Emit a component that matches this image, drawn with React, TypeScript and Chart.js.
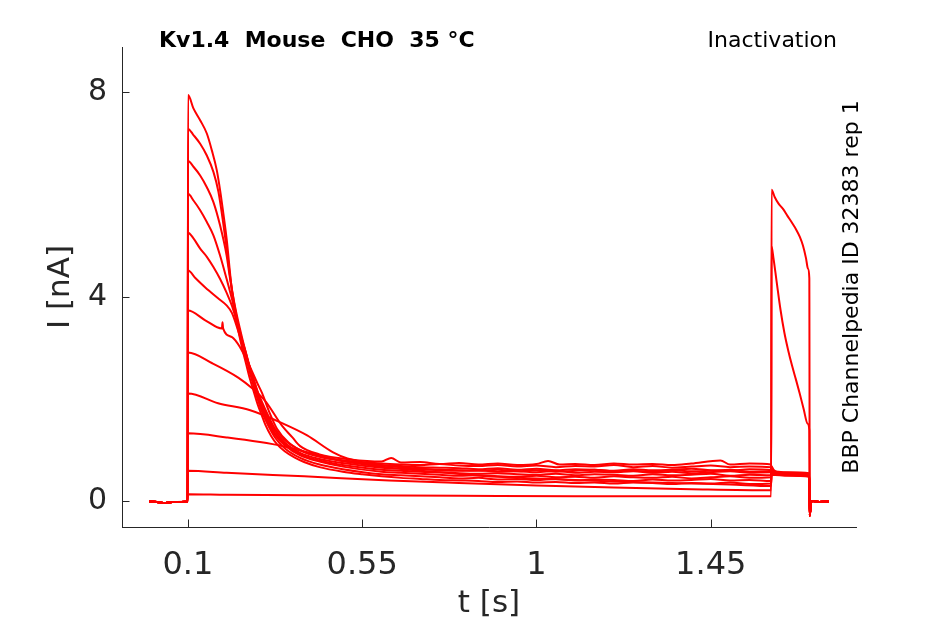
import { useEffect, useRef } from "react";
import { Chart, registerables } from "chart.js";

Chart.register(...registerables);

const titleText = "Kv1.4  Mouse  CHO  35 °C";
const protocolText = "Inactivation";
const sideText = "BBP Channelpedia ID 32383 rep 1";
const xLabel = "t [s]";
const yLabel = "I [nA]";
const xTicks = [0.1, 0.55, 1, 1.45];
const yTicks = [0, 4, 8];

// holding current before the prepulse, same for every sweep
const holding = [[0, 0], [0.02, -0.01], [0.042, -0.03], [0.06, -0.01], [0.0995, 0]];
// back to holding after the test pulse
const tailCurrent = [[1.7055, -0.28], [1.709, -0.02], [1.713, 0.01], [1.73, -0.01], [1.755, 0]];

// prepulse (0.1 - 1.606 s) and test pulse (1.607 - 1.705 s), [t, I]
const sweep1 = [[0.1005, 7.94], [0.1144, 7.68], [0.1317, 7.45], [0.149, 7.19], [0.162, 6.86], [0.1748, 6.47], [0.1833, 6.08], [0.1918, 5.62], [0.2006, 5.1], [0.2091, 4.45], [0.214, 4.1], [0.22, 3.75], [0.23, 3.35], [0.24, 3.0], [0.25, 2.7], [0.26, 2.4], [0.27, 2.15], [0.28, 1.9], [0.29, 1.7], [0.3, 1.5], [0.315, 1.28], [0.33, 1.12], [0.35, 0.98], [0.375, 0.86], [0.4, 0.77], [0.44, 0.67], [0.5, 0.58], [0.55, 0.53], [0.6, 0.49],
  [0.65, 0.46], [0.7, 0.44], [0.75, 0.42], [0.8, 0.41], [0.85, 0.4], [0.9, 0.38], [0.95, 0.39], [1.0, 0.37], [1.05, 0.38], [1.1, 0.36], [1.15, 0.37], [1.2, 0.35], [1.25, 0.37], [1.3, 0.36], [1.35, 0.34], [1.4, 0.36], [1.45, 0.35], [1.5, 0.37], [1.55, 0.34], [1.606, 0.35],
  [1.607, 0.52], [1.65, 0.5], [1.7045, 0.48]];
const sweep2 = [[0.1005, 7.28], [0.1145, 7.16], [0.1318, 6.99], [0.149, 6.76], [0.166, 6.44], [0.179, 6.05], [0.192, 5.4], [0.2, 4.95], [0.209, 4.4], [0.22, 3.85], [0.23, 3.45], [0.24, 3.12], [0.25, 2.82], [0.26, 2.52], [0.27, 2.25], [0.28, 2.0], [0.29, 1.78], [0.3, 1.6], [0.325, 1.25], [0.35, 1.04], [0.39, 0.85], [0.44, 0.72], [0.5, 0.63], [0.6, 0.53],
  [0.65, 0.51], [0.7, 0.49], [0.75, 0.47], [0.8, 0.45], [0.85, 0.46], [0.9, 0.43], [0.95, 0.44], [1.0, 0.42], [1.05, 0.44], [1.1, 0.41], [1.15, 0.43], [1.2, 0.42], [1.25, 0.4], [1.3, 0.43], [1.35, 0.41], [1.4, 0.42], [1.45, 0.44], [1.5, 0.41], [1.55, 0.42], [1.606, 0.4],
  [1.607, 0.54], [1.65, 0.51], [1.7045, 0.49]];
const sweep3 = [[0.1005, 6.65], [0.1145, 6.54], [0.1318, 6.37], [0.149, 6.14], [0.166, 5.85], [0.183, 5.4], [0.2, 4.81], [0.209, 4.35], [0.22, 3.88], [0.23, 3.52], [0.24, 3.2], [0.25, 2.9], [0.26, 2.6], [0.27, 2.32], [0.28, 2.05], [0.29, 1.84], [0.3, 1.65], [0.325, 1.3], [0.35, 1.1], [0.39, 0.9], [0.44, 0.78], [0.5, 0.68], [0.6, 0.58],
  [0.65, 0.56], [0.7, 0.54], [0.75, 0.52], [0.8, 0.5], [0.85, 0.51], [0.9, 0.49], [0.95, 0.48], [1.0, 0.5], [1.05, 0.47], [1.1, 0.48], [1.15, 0.46], [1.2, 0.49], [1.25, 0.47], [1.3, 0.46], [1.35, 0.48], [1.4, 0.45], [1.45, 0.47], [1.5, 0.49], [1.55, 0.46], [1.606, 0.47],
  [1.607, 0.55], [1.65, 0.52], [1.7045, 0.5]];
const sweep4 = [[0.1005, 6.01], [0.1145, 5.88], [0.1318, 5.69], [0.149, 5.46], [0.166, 5.2], [0.183, 4.81], [0.2, 4.35], [0.214, 3.95], [0.23, 3.45], [0.24, 3.15], [0.25, 2.88], [0.26, 2.6], [0.27, 2.35], [0.28, 2.1], [0.29, 1.88], [0.3, 1.7], [0.325, 1.33], [0.35, 1.12], [0.39, 0.92], [0.44, 0.8], [0.5, 0.71], [0.6, 0.62],
  [0.65, 0.6], [0.7, 0.58], [0.75, 0.57], [0.8, 0.55], [0.85, 0.54], [0.9, 0.55], [0.95, 0.53], [1.0, 0.52], [1.05, 0.54], [1.1, 0.51], [1.15, 0.53], [1.2, 0.52], [1.25, 0.5], [1.3, 0.53], [1.35, 0.51], [1.4, 0.52], [1.45, 0.54], [1.5, 0.5], [1.55, 0.52], [1.606, 0.51],
  [1.607, 0.56], [1.65, 0.53], [1.7045, 0.51]];
const sweep5 = [[0.1005, 5.25], [0.1145, 5.14], [0.1318, 4.94], [0.149, 4.78], [0.166, 4.58], [0.183, 4.35], [0.2, 4.08], [0.214, 3.82], [0.23, 3.42], [0.24, 3.15], [0.25, 2.9], [0.26, 2.63], [0.27, 2.38], [0.28, 2.14], [0.29, 1.93], [0.3, 1.75], [0.325, 1.38], [0.35, 1.15], [0.39, 0.95], [0.44, 0.83], [0.5, 0.75], [0.6, 0.66],
  [0.65, 0.64], [0.7, 0.63], [0.75, 0.61], [0.8, 0.6], [0.85, 0.61], [0.9, 0.58], [0.95, 0.59], [1.0, 0.57], [1.05, 0.6], [1.1, 0.56], [1.15, 0.58], [1.2, 0.57], [1.25, 0.59], [1.3, 0.56], [1.35, 0.58], [1.4, 0.55], [1.45, 0.57], [1.5, 0.59], [1.55, 0.56], [1.606, 0.57],
  [1.607, 0.57], [1.65, 0.54], [1.7045, 0.52]];
const sweep6 = [[0.1005, 4.51], [0.12, 4.36], [0.145, 4.18], [0.178, 3.97], [0.2, 3.83], [0.214, 3.68], [0.225, 3.45], [0.235, 3.21], [0.25, 2.85], [0.265, 2.5], [0.28, 2.15], [0.3, 1.8], [0.325, 1.42], [0.35, 1.2], [0.39, 1.0], [0.44, 0.87], [0.5, 0.79], [0.6, 0.71],
  [0.65, 0.69], [0.7, 0.67], [0.75, 0.66], [0.8, 0.65], [0.85, 0.63], [0.9, 0.65], [0.95, 0.62], [1.0, 0.64], [1.05, 0.61], [1.1, 0.63], [1.15, 0.62], [1.2, 0.6], [1.25, 0.63], [1.3, 0.61], [1.35, 0.62], [1.4, 0.64], [1.45, 0.61], [1.5, 0.6], [1.55, 0.63], [1.606, 0.61],
  [1.607, 0.58], [1.65, 0.55], [1.7045, 0.53]];
const sweep7 = [[0.1005, 3.73], [0.145, 3.54], [0.188, 3.38], [0.1895, 3.5], [0.191, 3.38], [0.214, 3.21], [0.235, 3.01], [0.256, 2.7], [0.28, 2.3], [0.292, 2.11], [0.31, 1.75], [0.33, 1.42], [0.36, 1.15], [0.4, 0.97], [0.475, 0.83], [0.6, 0.74],
  [0.65, 0.72], [0.7, 0.71], [0.75, 0.73], [0.8, 0.7], [0.85, 0.69], [0.9, 0.71], [0.95, 0.68], [1.0, 0.7], [1.05, 0.67], [1.1, 0.69], [1.15, 0.68], [1.2, 0.71], [1.25, 0.67], [1.3, 0.69], [1.35, 0.66], [1.4, 0.68], [1.45, 0.7], [1.5, 0.67], [1.55, 0.68], [1.606, 0.67],
  [1.607, 0.6], [1.65, 0.56], [1.7045, 0.54]];
const sweep8 = [[0.1005, 2.91], [0.163, 2.7], [0.23, 2.42], [0.266, 2.21], [0.3, 1.96], [0.344, 1.47], [0.37, 1.25], [0.39, 1.08], [0.44, 0.92], [0.52, 0.82], [0.6, 0.78], [0.625, 0.85], [0.65, 0.76],
  [0.7, 0.77], [0.75, 0.73], [0.8, 0.75], [0.85, 0.72], [0.9, 0.74], [0.95, 0.71], [1.0, 0.73], [1.03, 0.79], [1.06, 0.72], [1.1, 0.73], [1.15, 0.71], [1.2, 0.74], [1.25, 0.72], [1.3, 0.73], [1.35, 0.71], [1.4, 0.74], [1.475, 0.8], [1.5, 0.72], [1.55, 0.74], [1.606, 0.72],
  [1.607, 0.6], [1.65, 0.57], [1.7045, 0.55]];
const sweep9 = [[0.1005, 2.11], [0.178, 1.92], [0.261, 1.78], [0.346, 1.52], [0.408, 1.29], [0.475, 0.96], [0.512, 0.84], [0.604, 0.7],
  [0.65, 0.67], [0.7, 0.64], [0.75, 0.62], [0.8, 0.61], [0.85, 0.6], [0.9, 0.62], [0.95, 0.59], [1.0, 0.61], [1.05, 0.58], [1.1, 0.6], [1.15, 0.62], [1.2, 0.59], [1.25, 0.6], [1.3, 0.58], [1.35, 0.61], [1.4, 0.59], [1.45, 0.6], [1.5, 0.62], [1.55, 0.58], [1.606, 0.59],
  [1.607, 0.56], [1.65, 0.54], [1.7045, 0.52]];
const sweep10 = [[0.1005, 1.33], [0.2, 1.25], [0.346, 1.08], [0.493, 0.8], [0.622, 0.66], [0.78, 0.55], [0.9, 0.48], [1.0, 0.45], [1.1, 0.42], [1.2, 0.39], [1.3, 0.37], [1.4, 0.35], [1.5, 0.33], [1.606, 0.3],
  [1.607, 0.68], [1.612, 0.62], [1.62, 0.57], [1.635, 0.54], [1.66, 0.52], [1.69, 0.5], [1.7045, 0.49]];
const sweep11 = [[0.1005, 0.6], [0.2, 0.56], [0.4, 0.49], [0.62, 0.41], [0.8, 0.36], [1.0, 0.31], [1.2, 0.27], [1.4, 0.24], [1.606, 0.22],
  [1.607, 4.98], [1.612, 4.75], [1.62, 4.3], [1.63, 3.75], [1.64, 3.3], [1.65, 2.95], [1.66, 2.65], [1.67, 2.38], [1.68, 2.1], [1.69, 1.8], [1.7, 1.52], [1.7045, 1.39]];
const sweep12 = [[0.1005, 0.14], [0.2, 0.13], [0.5, 0.12], [0.8, 0.11], [1.1, 0.1], [1.4, 0.1], [1.606, 0.1],
  [1.607, 6.09], [1.615, 5.95], [1.625, 5.82], [1.636, 5.72], [1.648, 5.58], [1.661, 5.43], [1.67, 5.32], [1.68, 5.17], [1.688, 5.0], [1.696, 4.75], [1.701, 4.55], [1.7045, 4.36]];

const sweeps = [sweep1, sweep2, sweep3, sweep4, sweep5, sweep6, sweep7, sweep8, sweep9, sweep10, sweep11, sweep12];

const axisColor = "#262626";
const font = "'DejaVu Sans', sans-serif";

const overlay = {
  id: "overlay",
  afterDraw(chart: any) {
    const { ctx, chartArea } = chart;
    const x = chart.scales.x;
    const y = chart.scales.y;
    ctx.save();
    // inward tick marks
    ctx.strokeStyle = axisColor;
    ctx.lineWidth = 1;
    xTicks.forEach((v) => {
      const px = Math.round(x.getPixelForValue(v)) + 0.5;
      ctx.beginPath();
      ctx.moveTo(px, chartArea.bottom);
      ctx.lineTo(px, chartArea.bottom - 7.5);
      ctx.stroke();
    });
    yTicks.forEach((v) => {
      const py = Math.round(y.getPixelForValue(v)) + 0.5;
      ctx.beginPath();
      ctx.moveTo(chartArea.left, py);
      ctx.lineTo(chartArea.left + 7.5, py);
      ctx.stroke();
    });
    ctx.fillStyle = "#000";
    ctx.textBaseline = "alphabetic";
    ctx.font = `bold 22px ${font}`;
    ctx.textAlign = "left";
    ctx.fillText(titleText, 159, 47);
    ctx.font = `22px ${font}`;
    ctx.textAlign = "right";
    ctx.fillText(protocolText, 837, 47);
    ctx.translate(858, 287);
    ctx.rotate(-Math.PI / 2);
    ctx.textAlign = "center";
    ctx.fillText(sideText, 0, 0);
    ctx.restore();
  },
};

export default function App() {
  const canvasRef = useRef<HTMLCanvasElement>(null);
  const chartRef = useRef<Chart | null>(null);

  useEffect(() => {
    if (!canvasRef.current) return;
    if (chartRef.current) chartRef.current.destroy();

    Chart.defaults.font.family = font;

    chartRef.current = new Chart(canvasRef.current, {
      type: "line",
      data: {
        datasets: sweeps.map((s, i) => ({
          label: `sweep ${i + 1}`,
          data: [...holding, ...s, ...tailCurrent] as any,
          borderColor: "#ff0000",
          borderWidth: 2,
          pointRadius: 0,
          cubicInterpolationMode: "monotone" as const,
          fill: false,
        })),
      },
      options: {
        animation: false,
        responsive: true,
        maintainAspectRatio: false,
        layout: { padding: { left: 0, right: 89, top: 47, bottom: 0 } },
        plugins: { legend: { display: false }, tooltip: { enabled: false } },
        scales: {
          x: {
            type: "linear",
            min: -0.07,
            max: 1.825,
            afterBuildTicks: (scale: any) => {
              scale.ticks = xTicks.map((v) => ({ value: v }));
            },
            afterFit: (scale: any) => {
              scale.height = 97;
            },
            grid: { display: false, drawTicks: false },
            border: { display: true, color: axisColor, width: 1 },
            ticks: {
              color: axisColor,
              font: { size: 32 },
              padding: 19,
              maxRotation: 0,
              callback: (v: any) => String(v),
            },
            title: {
              display: true,
              text: xLabel,
              color: axisColor,
              font: { size: 31 },
              padding: { top: 0, bottom: 1 },
            },
          },
          y: {
            type: "linear",
            min: -0.5,
            max: 8.88,
            afterBuildTicks: (scale: any) => {
              scale.ticks = yTicks.map((v) => ({ value: v }));
            },
            afterFit: (scale: any) => {
              scale.width = 122;
            },
            grid: { display: false, drawTicks: false },
            border: { display: true, color: axisColor, width: 1 },
            ticks: {
              color: axisColor,
              font: { size: 30 },
              padding: 15,
              callback: (v: any) => String(v),
            },
            title: {
              display: true,
              text: yLabel,
              color: axisColor,
              font: { size: 31 },
              padding: { top: 42, bottom: 0 },
            },
          },
        },
      },
      plugins: [overlay],
    });

    return () => {
      if (chartRef.current) {
        chartRef.current.destroy();
        chartRef.current = null;
      }
    };
  }, []);

  return (
    <div style={{ position: "absolute", left: 0, top: 0, width: 945, height: 624, background: "#fff" }}>
      <canvas ref={canvasRef}></canvas>
    </div>
  );
}
